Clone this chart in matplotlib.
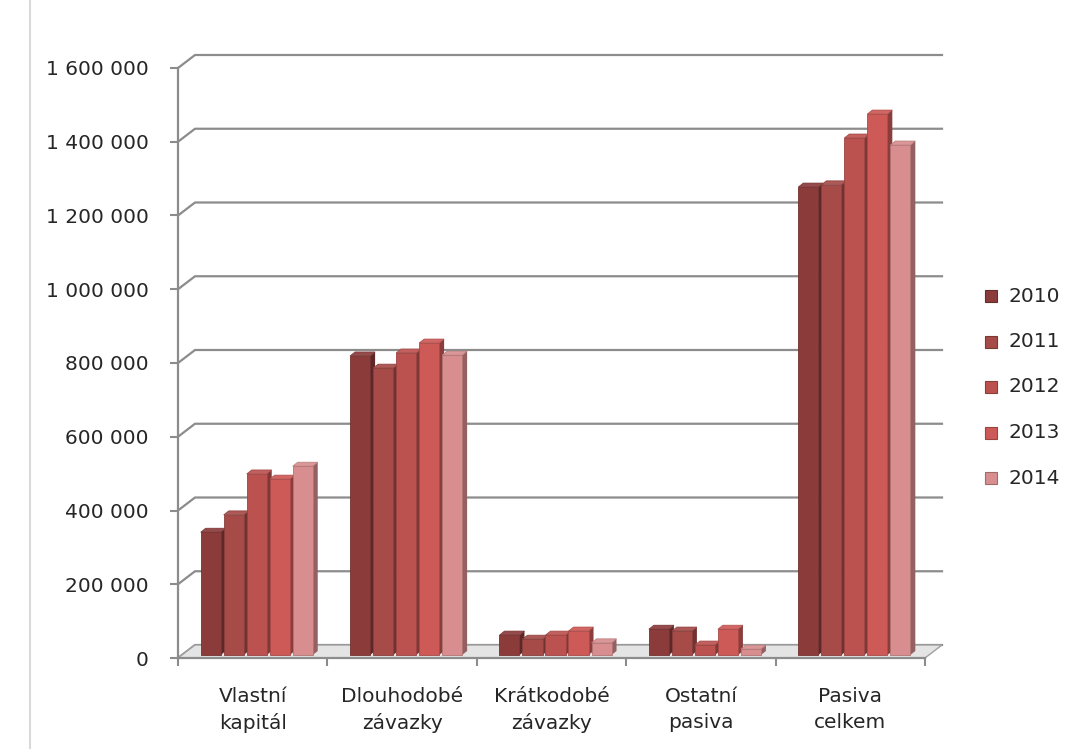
import matplotlib
matplotlib.use("Agg")
import matplotlib.pyplot as plt
import matplotlib.transforms as mtransforms
from matplotlib.patches import Polygon, Rectangle
from matplotlib.lines import Line2D
import matplotlib.colors as mcolors
import numpy as np

# ---------------- data ----------------
categories = ["Vlastní\nkapitál", "Dlouhodobé\nzávazky", "Krátkodobé\nzávazky",
              "Ostatní\npasiva", "Pasiva\ncelkem"]
years = ["2010", "2011", "2012", "2013", "2014"]
v2010 = [333000, 811000, 54000, 70000, 1269000]
v2011 = [380000, 778000, 43000, 65000, 1275000]
v2012 = [491000, 819000, 54000, 27000, 1402000]
v2013 = [477000, 846000, 65000, 70000, 1467000]
v2014 = [512000, 813000, 33000, 16000, 1383000]
series = [v2010, v2011, v2012, v2013, v2014]
colors = ["#8C3B3B", "#A64B48", "#BC5250", "#CD5A57", "#D88E8E"]
yticks = [0, 200000, 400000, 600000, 800000, 1000000, 1200000, 1400000, 1600000]
ytick_labels = ["0", "200 000", "400 000", "600 000", "800 000",
                "1 000 000", "1 200 000", "1 400 000", "1 600 000"]

# ---------------- style ----------------
FONT = ["DejaVu Sans"]
plt.rcParams["font.family"] = FONT
TXT = "#262626"
GRID = "#8c8c8c"
FS = 14.5
DPI = 100
W, H = 1065, 749

fig = plt.figure(figsize=(W / DPI, H / DPI), dpi=DPI)
fig.patch.set_facecolor("white")

# front plane of the 3D box (image pixel coordinates)
X0, X1 = 178, 925
YB, YT = 658, 68
ax = fig.add_axes([X0 / W, (H - YB) / H, (X1 - X0) / W, (YB - YT) / H])
ax.set_xlim(0, len(categories))
ax.set_ylim(0, 1600000)
ax.patch.set_alpha(0)

ID = mtransforms.IdentityTransform()
WALL = (17, 13)      # depth offset of back wall (px)
BOFF = (4, 3)        # bar front offset (px)
BDEP = (5, 4)        # bar depth (px)


def disp(x, y, dx=0.0, dy=0.0):
    px, py = ax.transData.transform((x, y))
    return (px + dx, py + dy)


def shade(c, f):
    r, g, b = mcolors.to_rgb(c)
    if f < 1:
        return (r * f, g * f, b * f)
    t = f - 1
    return (r + (1 - r) * t, g + (1 - g) * t, b + (1 - b) * t)


ncat = len(categories)

# back wall gridlines with diagonal connectors on the side wall
for v in yticks:
    p0 = disp(0, v)
    p1 = disp(0, v, *WALL)
    p2 = disp(ncat, v, *WALL)
    ax.add_line(Line2D([p0[0], p1[0], p2[0]], [p0[1], p1[1], p2[1]],
                       transform=ID, color=GRID, lw=1.6, clip_on=False, zorder=1))

# floor
floor_pts = [disp(0, 0), disp(ncat, 0), disp(ncat, 0, *WALL), disp(0, 0, *WALL)]
ax.add_patch(Polygon(floor_pts, closed=True, transform=ID, facecolor="#e4e4e4",
                     edgecolor="#a0a0a0", lw=1.0, clip_on=False, zorder=2))

# bars (front face, top face, right side face)
pitch = 0.154
bw = 0.134
start = (1 - len(series) * pitch) / 2 + 0.01
z = 3.0
for i in range(ncat):
    for j, vals in enumerate(series):
        v = vals[i]
        c = colors[j]
        xl = i + start + j * pitch
        xr = xl + bw
        fl_b = disp(xl, 0, *BOFF)
        fr_b = disp(xr, 0, *BOFF)
        fl_t = disp(xl, v, *BOFF)
        fr_t = disp(xr, v, *BOFF)
        bl_t = (fl_t[0] + BDEP[0], fl_t[1] + BDEP[1])
        br_t = (fr_t[0] + BDEP[0], fr_t[1] + BDEP[1])
        br_b = (fr_b[0] + BDEP[0], fr_b[1] + BDEP[1])
        # side
        ax.add_patch(Polygon([fr_b, fr_t, br_t, br_b], closed=True, transform=ID,
                             facecolor=shade(c, 0.68), edgecolor="none",
                             clip_on=False, zorder=z))
        # top
        ax.add_patch(Polygon([fl_t, fr_t, br_t, bl_t], closed=True, transform=ID,
                             facecolor=shade(c, 1.08), edgecolor=shade(c, 0.85),
                             lw=0.5, clip_on=False, zorder=z))
        # front
        ax.add_patch(Polygon([fl_b, fr_b, fr_t, fl_t], closed=True, transform=ID,
                             facecolor=c, edgecolor=shade(c, 0.82), lw=0.6,
                             clip_on=False, zorder=z + 0.001))
        z += 0.01

# axes decorations
for s in ["top", "right"]:
    ax.spines[s].set_visible(False)
for s in ["left", "bottom"]:
    ax.spines[s].set_color(GRID)
    ax.spines[s].set_linewidth(1.6)
    ax.spines[s].set_zorder(2.5)

ax.set_yticks(yticks)
ax.set_yticklabels(ytick_labels)
ax.tick_params(axis="y", length=6, width=1.5, color=GRID, pad=15,
               labelsize=FS, labelcolor=TXT)

ax.set_xticks(np.arange(ncat) + 0.5)
ax.set_xticklabels(categories)
ax.set_xticks(np.arange(ncat + 1), minor=True)
ax.tick_params(axis="x", which="major", length=0, pad=21, labelsize=FS, labelcolor=TXT)
ax.tick_params(axis="x", which="minor", length=6, width=1.5, color=GRID)
for lbl in ax.get_xticklabels():
    lbl.set_linespacing(1.45)

# legend (manual, Excel-like)
for k, (yr, c) in enumerate(zip(years, colors)):
    yc = 296 + k * 45.5
    fig.add_artist(Rectangle((985 / W, (H - yc - 6) / H), 12 / W, 12 / H,
                             transform=fig.transFigure, facecolor=c,
                             edgecolor=shade(c, 0.75), lw=0.8))
    fig.text(1009 / W, (H - yc) / H, yr, fontsize=FS, color=TXT,
             va="center", ha="left")

# page border line on the left
fig.add_artist(Line2D([30 / W, 30 / W], [0, 1], transform=fig.transFigure,
                      color="#d9d9d9", lw=1.5))

fig.savefig("out.png", dpi=DPI)
